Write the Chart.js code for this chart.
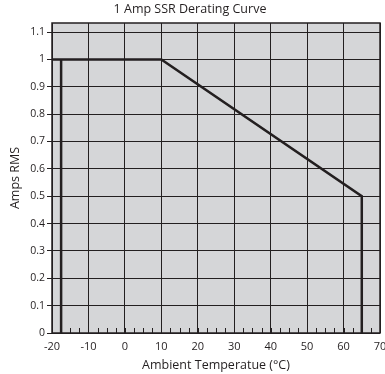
<!DOCTYPE html>
<html>
<head>
<meta charset="UTF-8">
<title>1 Amp SSR Derating Curve</title>
<script src="https://cdn.jsdelivr.net/npm/chart.js@4.4.0/dist/chart.umd.min.js"></script>
<style>
  html, body { margin: 0; padding: 0; background: #fff; }
  #wrap { width: 385px; height: 374px; }
</style>
</head>
<body>
<div id="wrap"><canvas id="derating"></canvas></div>
<script>
// derating curve (ambient temp in C, current in A RMS)
const curveTemps = [-20, 10, 65, 65];
const curveAmps  = [1, 1, 0.5, 0];
// left limit line
const limitTemps = [-17.5, -17.5];
const limitAmps  = [0, 1];

const xTicks = [-20, -10, 0, 10, 20, 30, 40, 50, 60, 70];
const xMinorStep = 2.5;
const yTicks = [0, 0.1, 0.2, 0.3, 0.4, 0.5, 0.6, 0.7, 0.8, 0.9, 1, 1.1];

const ink = '#231f20';

// gray plot background + small inward minor ticks on the bottom edge
const plotDecor = {
  id: 'plotDecor',
  beforeDraw(chart) {
    const a = chart.chartArea, c = chart.ctx;
    c.save();
    c.fillStyle = '#d5d6d8';
    c.fillRect(a.left, a.top, a.right - a.left, a.bottom - a.top);
    c.restore();
  },
  afterDatasetsDraw(chart) {
    const a = chart.chartArea, c = chart.ctx, x = chart.scales.x;
    c.save();
    c.strokeStyle = ink;
    c.lineWidth = 1;
    c.beginPath();
    for (let v = xTicks[0]; v <= xTicks[xTicks.length - 1]; v += xMinorStep) {
      const px = Math.round(x.getPixelForValue(v)) + 0.5;
      c.moveTo(px, a.bottom);
      c.lineTo(px, a.bottom - 5);
    }
    c.stroke();
    c.lineWidth = 1.5;
    c.strokeRect(a.left, a.top, a.right - a.left, a.bottom - a.top);
    c.restore();
  }
};

const toPts = (xs, ys) => xs.map((v, i) => ({ x: v, y: ys[i] }));

new Chart(document.getElementById('derating'), {
  type: 'scatter',
  data: {
    datasets: [
      {
        data: toPts(curveTemps, curveAmps),
        showLine: true,
        borderColor: ink,
        borderWidth: 2.5,
        pointRadius: 0,
        tension: 0
      },
      {
        data: toPts(limitTemps, limitAmps),
        showLine: true,
        borderColor: ink,
        borderWidth: 2.5,
        pointRadius: 0,
        tension: 0
      }
    ]
  },
  options: {
    responsive: true,
    maintainAspectRatio: false,
    animation: false,
    layout: { padding: { left: 0, right: 5, top: 0, bottom: 1 } },
    plugins: {
      legend: { display: false },
      tooltip: { enabled: false },
      title: {
        display: true,
        text: '1 Amp SSR Derating Curve',
        color: ink,
        font: { family: 'Open Sans', size: 12.5, weight: 'normal' },
        padding: { top: 2, bottom: 6 }
      }
    },
    scales: {
      x: {
        type: 'linear',
        min: -20,
        max: 70,
        afterBuildTicks: s => { s.ticks = xTicks.map(v => ({ value: v })); },
        afterFit: s => { s.height = 40; s.paddingRight = 0; },
        grid: { color: ink, lineWidth: 1, drawTicks: false },
        border: { display: false },
        ticks: {
          color: ink,
          padding: 7,
          maxRotation: 0,
          font: { family: 'Open Sans', size: 11 }
        },
        title: {
          display: true,
          text: 'Ambient Temperatue (°C)',
          color: ink,
          font: { family: 'Open Sans', size: 12.5 },
          padding: { top: 0, bottom: 0 }
        }
      },
      y: {
        type: 'linear',
        min: 0,
        max: 1.133,
        afterBuildTicks: s => { s.ticks = yTicks.map(v => ({ value: v })); },
        afterFit: s => { s.width = 52; },
        grid: { color: ink, lineWidth: 1, tickLength: 5 },
        border: { display: false },
        ticks: {
          color: ink,
          padding: 2,
          font: { family: 'Open Sans', size: 10.5 },
          callback: v => String(v)
        },
        title: {
          display: true,
          text: 'Amps RMS',
          color: ink,
          font: { family: 'Open Sans', size: 12.5 },
          padding: { top: 8, bottom: 0 }
        }
      }
    }
  },
  plugins: [plotDecor]
});
</script>
</body>
</html>
